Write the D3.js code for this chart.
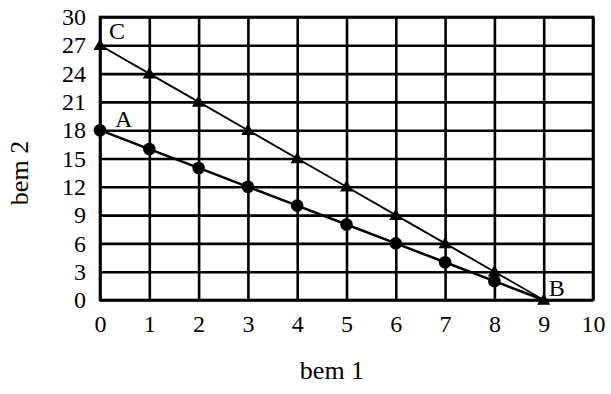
<!DOCTYPE html>
<html>
<head>
<meta charset="utf-8">
<script src="https://cdn.jsdelivr.net/npm/d3@7"></script>
<style>
  body { margin: 0; background: #fff; }
  svg text { font-family: "Liberation Serif", "Times New Roman", serif !important; fill: #000; }
</style>
</head>
<body>
<div id="chart"></div>
<script>
// values
const bem1 = [0, 1, 2, 3, 4, 5, 6, 7, 8, 9]
const lineAB = [18, 16, 14, 12, 10, 8, 6, 4, 2, 0]
const lineCB = [27, 24, 21, 18, 15, 12, 9, 6, 3, 0]
const xTicks = [0, 1, 2, 3, 4, 5, 6, 7, 8, 9, 10]
const yTicks = [0, 3, 6, 9, 12, 15, 18, 21, 24, 27, 30]
const pointLabels = [
    { name: "C", x: 0, y: 27, dx: 9, dy: -6 },
    { name: "A", x: 0, y: 18, dx: 15, dy: -3 },
    { name: "B", x: 9, y: 0, dx: 5, dy: -4 }
]

const width = 611
const height = 394
const margin = { top: 17, left: 100, bottom: 94, right: 18 }
const iwidth = width - margin.left - margin.right
const iheight = height - margin.top - margin.bottom

const svg = d3.select("#chart").append("svg")
    .attr("width", width)
    .attr("height", height)

const g = svg.append("g").attr("transform", `translate(${margin.left},${margin.top})`)

const x = d3.scaleLinear().domain([0, 10]).range([0, iwidth])
const y = d3.scaleLinear().domain([0, 30]).range([iheight, 0])

// grid + tick labels
const xAxis = g.append("g")
    .attr("transform", `translate(0,${iheight})`)
    .call(d3.axisBottom(x).tickValues(xTicks).tickSize(-iheight).tickSizeOuter(0).tickPadding(15))
const yAxis = g.append("g")
    .call(d3.axisLeft(y).tickValues(yTicks).tickSize(-iwidth).tickSizeOuter(0).tickPadding(14))

for (const ax of [xAxis, yAxis]) {
    ax.attr("font-family", null).attr("font-size", null)
    ax.select(".domain").remove()
    ax.selectAll("line").attr("stroke", "#000").attr("stroke-width", 2.6)
    ax.selectAll("text").style("font-size", "24px").attr("fill", "#000")
}

g.append("rect")
    .attr("width", iwidth).attr("height", iheight)
    .attr("fill", "none").attr("stroke", "#000").attr("stroke-width", 2.6)

const ab = bem1.map((d, i) => [d, lineAB[i]])
const cb = bem1.map((d, i) => [d, lineCB[i]])
const line = d3.line().x(d => x(d[0])).y(d => y(d[1]))

g.append("path").datum(cb)
    .attr("d", line).attr("fill", "none").attr("stroke", "#000").attr("stroke-width", 1.9)
g.append("path").datum(ab)
    .attr("d", line).attr("fill", "none").attr("stroke", "#000").attr("stroke-width", 2.5)

g.selectAll(".tri").data(cb).enter().append("path")
    .attr("class", "tri")
    .attr("d", d3.symbol().type(d3.symbolTriangle).size(75))
    .attr("transform", d => `translate(${x(d[0])},${y(d[1]) + 1})`)
    .attr("fill", "#000")

g.selectAll(".dot").data(ab.filter(d => d[1] > 0)).enter().append("circle")
    .attr("class", "dot")
    .attr("cx", d => x(d[0])).attr("cy", d => y(d[1]))
    .attr("r", 6.3).attr("fill", "#000")

g.selectAll(".lbl").data(pointLabels).enter().append("text")
    .attr("class", "lbl")
    .attr("x", d => x(d.x) + d.dx).attr("y", d => y(d.y) + d.dy)
    .style("font-size", "24px")
    .text(d => d.name)

// axis titles
svg.append("text")
    .attr("x", 332).attr("y", 379)
    .attr("text-anchor", "middle").style("font-size", "26px")
    .text("bem 1")
svg.append("text")
    .attr("transform", "translate(28,173) rotate(-90)")
    .attr("text-anchor", "middle").style("font-size", "26px")
    .text("bem 2")
</script>
</body>
</html>
